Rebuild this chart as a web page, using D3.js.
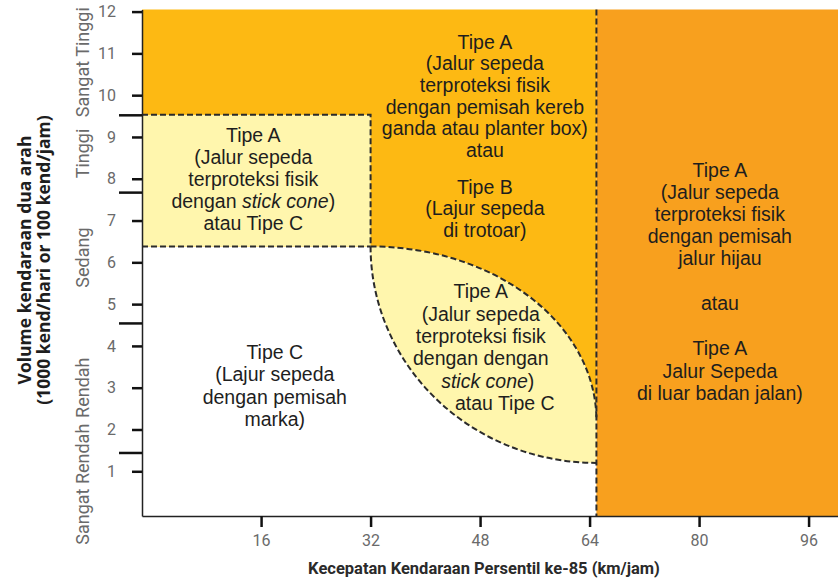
<!DOCTYPE html>
<html>
<head>
<meta charset="utf-8">
<script src="https://cdn.jsdelivr.net/npm/d3@7/dist/d3.min.js"></script>
<style>
  body { margin: 0; background: #fff; }
  svg { display: block; }
</style>
</head>
<body>
<div id="chart"></div>
<script>
// ticks
const xTicks = [16, 32, 48, 64, 80, 96];
const yTicks = [1, 2, 3, 4, 5, 6, 7, 8, 9, 10, 11, 12];

// volume classes on the left (bottom -> top) and where they change
const volumeClasses = ["Sangat Rendah", "Rendah", "Sedang", "Tinggi", "Sangat Tinggi"];
const volumeClassBreaks = [1.45, 4.55, 7.68, 9.53];

// zone borders
const speedLimits = [32, 65];      // km/jam
const boxVolume = [6.38, 9.53];    // low speed box (bottom, top)
const lensVolume = [1.2, 2.22];    // at 65 km/jam: lower arc end, upper arc end

// zone texts, "*...*" = italic, "" = blank line
const textTopMid = ["Tipe A", "(Jalur sepeda", "terproteksi fisik", "dengan pemisah kereb",
  "ganda atau planter box)", "atau", "", "Tipe B", "(Lajur sepeda", "di trotoar)"];
const textBox = ["Tipe A", "(Jalur sepeda", "terproteksi fisik", "dengan *stick cone*)", "atau Tipe C"];
const textRight = ["Tipe A", "(Jalur sepeda", "terproteksi fisik", "dengan pemisah", "jalur hijau",
  "", "atau", "", "Tipe A", "Jalur Sepeda", "di luar badan jalan)"];
const textLens = ["Tipe A", "(Jalur sepeda", "terproteksi fisik", "dengan dengan", "*stick cone*)", "atau Tipe C"];
const textWhite = ["Tipe C", "(Lajur sepeda", "dengan pemisah", "marka)"];

const xTitle = "Kecepatan Kendaraan Persentil ke-85 (km/jam)";
const yTitle = ["Volume kendaraan dua arah", "(1000 kend/hari or 100 kend/jam)"];

const w = 838, h = 580;
const pLeft = 142, pRight = 838, pTop = 9.5, pBottom = 516;

const x = d3.scaleLinear().domain([-1.4, 100.3]).range([pLeft, pRight]);
const y = d3.scaleLinear().domain([-0.07, 12.05]).range([pBottom, pTop]);

const colAmber = "#fdb913", colOrange = "#f8a01e", colLight = "#fff6ad";
const dash = { stroke: "#2b2b2b", width: 2, array: "6,3" };

const svg = d3.select("#chart").append("svg")
  .attr("width", w)
  .attr("height", h);

const cx0 = x(speedLimits[0]), cx1 = x(speedLimits[1]);
const yBoxB = y(boxVolume[0]), yBoxT = y(boxVolume[1]);
const yUp = y(lensVolume[1]), yLow = y(lensVolume[0]);
const rx = cx1 - cx0;

// zones
svg.append("rect")
  .attr("x", cx1).attr("y", pTop)
  .attr("width", pRight - cx1).attr("height", pBottom - pTop)
  .attr("fill", colOrange);

// amber: everything above the box line, plus the corner over the upper arc
svg.append("path")
  .attr("d", `M${pLeft},${pTop} H${cx1} V${yUp} A${rx},${yUp - yBoxB} 0 0 0 ${cx0},${yBoxB} H${pLeft} Z`)
  .attr("fill", colAmber);

svg.append("path")
  .attr("d", `M${cx0},${yBoxB} A${rx},${yUp - yBoxB} 0 0 1 ${cx1},${yUp} L${cx1},${yLow} A${rx},${yLow - yBoxB} 0 0 1 ${cx0},${yBoxB} Z`)
  .attr("fill", colLight);

svg.append("rect")
  .attr("x", pLeft).attr("y", yBoxT)
  .attr("width", cx0 - pLeft).attr("height", yBoxB - yBoxT)
  .attr("fill", colLight);

// dashed borders
const borders = [
  `M${pLeft},${yBoxT} H${cx0} V${yBoxB}`,
  `M${pLeft},${yBoxB} H${cx0}`,
  `M${cx0},${yBoxB} A${rx},${yUp - yBoxB} 0 0 1 ${cx1},${yUp}`,
  `M${cx0},${yBoxB} A${rx},${yLow - yBoxB} 0 0 0 ${cx1},${yLow}`,
  `M${cx1},${pTop} V${pBottom}`
];
svg.selectAll(".border")
  .data(borders)
  .enter()
  .append("path")
  .attr("class", "border")
  .attr("d", d => d)
  .attr("fill", "none")
  .attr("stroke", dash.stroke)
  .attr("stroke-width", dash.width)
  .attr("stroke-dasharray", dash.array);

// axes
const tickFont = "Roboto, 'DejaVu Sans', sans-serif";

const yAxis = svg.append("g")
  .attr("transform", `translate(${pLeft},0)`)
  .call(d3.axisLeft(y).tickValues(yTicks).tickSize(10).tickPadding(16).tickSizeOuter(0));

const yBands = svg.append("g")
  .attr("transform", `translate(${pLeft},0)`)
  .call(d3.axisLeft(y).tickValues(volumeClassBreaks).tickSize(23).tickFormat(() => "").tickSizeOuter(0));
yBands.select(".domain").remove();

const xAxis = svg.append("g")
  .attr("transform", `translate(0,${pBottom})`)
  .call(d3.axisBottom(x).tickValues(xTicks).tickSize(11).tickPadding(8).tickSizeOuter(0));

[yAxis, xAxis].forEach(g => {
  g.select(".domain").attr("stroke", "#222").attr("stroke-width", 1.5);
  g.selectAll("text")
    .attr("fill", "#6a6a6a")
    .style("font-family", tickFont)
    .style("font-size", "16px");
});
[yAxis, yBands, xAxis].forEach(g => {
  g.selectAll(".tick line").attr("stroke", "#111").attr("stroke-width", 2.5);
});

// volume class labels
const bounds = [y.domain()[0]].concat(volumeClassBreaks, [y.domain()[1]]);
svg.selectAll(".vclass")
  .data(volumeClasses)
  .enter()
  .append("text")
  .attr("class", "vclass")
  .attr("transform", (d, i) => `translate(83,${y((bounds[i] + bounds[i + 1]) / 2)}) rotate(-90)`)
  .attr("text-anchor", "middle")
  .attr("dy", "0.35em")
  .attr("fill", "#6a6a6a")
  .style("font-family", tickFont)
  .style("font-size", "18px")
  .text(d => d);

// zone texts
function drawBlock(lines, sx, sv, opts) {
  const lh = opts.lh || 21.7, gap = opts.gap || 22, dxs = opts.dx || [];
  let cy = y(sv);
  const g = svg.append("g")
    .style("font-family", "'Liberation Sans', Arial, sans-serif")
    .style("font-size", "19.5px")
    .attr("fill", "#1e1e1e")
    .attr("text-anchor", "middle");
  lines.forEach((line, i) => {
    if (line === "") { cy += gap; return; }
    const t = g.append("text")
      .attr("x", x(sx) + (dxs[i] || 0))
      .attr("y", cy)
      .attr("dy", "0.35em");
    line.split("*").forEach((part, k) => {
      if (part === "") return;
      t.append("tspan")
        .style("font-style", k % 2 ? "italic" : "normal")
        .text(part);
    });
    cy += lh;
  });
}

drawBlock(textTopMid, 48.7, 11.28, { lh: 21.7, gap: 15 });
drawBlock(textBox, 14.86, 9.05, { lh: 22 });
drawBlock(textRight, 83.04, 8.21, { lh: 22.1, gap: 23 });
drawBlock(textLens, 48.1, 5.30, { lh: 22.3, dx: [0, 0, 0, 0, 7, 24] });
drawBlock(textWhite, 18.0, 3.85, { lh: 22.4 });

// titles
svg.append("text")
  .attr("x", 484)
  .attr("y", 568)
  .attr("dy", "0.35em")
  .attr("text-anchor", "middle")
  .attr("fill", "#2a2a2a")
  .style("font-family", "Roboto, sans-serif")
  .style("font-weight", "bold")
  .style("font-size", "16.5px")
  .text(xTitle);

svg.selectAll(".ytitle")
  .data(yTitle)
  .enter()
  .append("text")
  .attr("class", "ytitle")
  .attr("transform", (d, i) => `translate(${25 + i * 19},260) rotate(-90)`)
  .attr("text-anchor", "middle")
  .attr("dy", "0.35em")
  .attr("fill", "#1e1e1e")
  .style("font-family", "'Open Sans', sans-serif")
  .style("font-weight", "bold")
  .style("font-size", "17.5px")
  .text(d => d);
</script>
</body>
</html>
